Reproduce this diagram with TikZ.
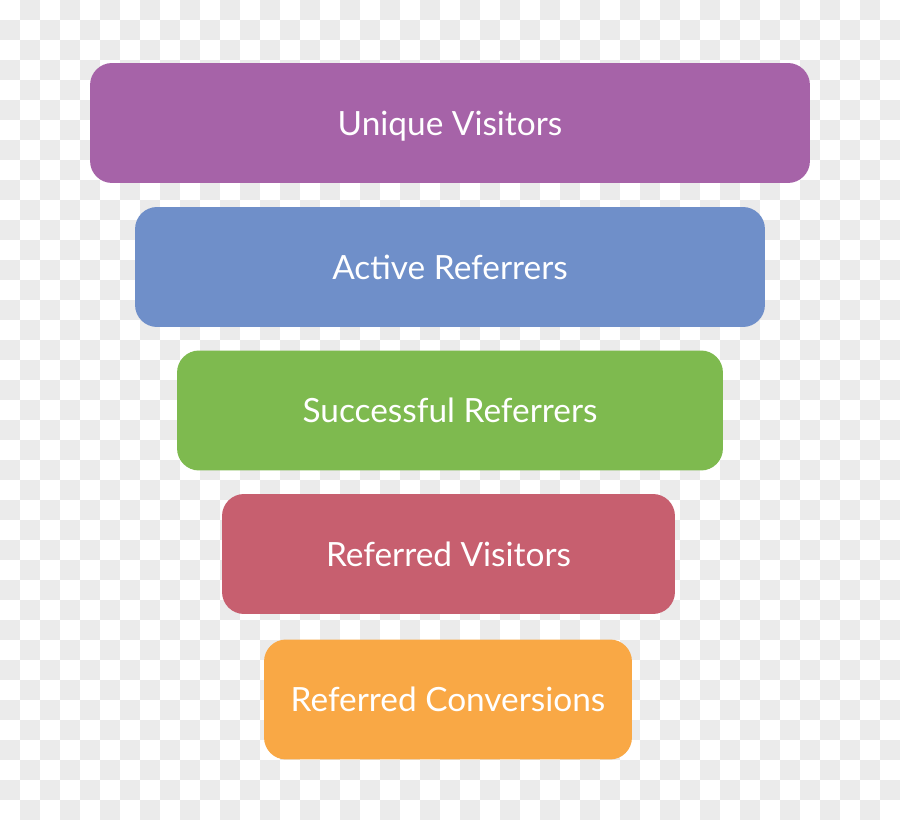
\documentclass[tikz,border=0pt]{standalone}
\usepackage{fontspec}
\setmainfont{Lato}
\usetikzlibrary{positioning}

\definecolor{chkgray}{HTML}{EBEBEB}
\definecolor{uvpurple}{HTML}{A663A8}
\definecolor{arblue}{HTML}{6F8FC9}
\definecolor{srgreen}{HTML}{7EBA4F}
\definecolor{rvred}{HTML}{C75F6F}
\definecolor{rcorange}{HTML}{F9A845}

\tikzset{
  stage/.style={rounded corners=0.44cm, minimum height=2.4cm, inner sep=0pt,
    text=white, text depth=0pt, font=\fontsize{19}{22}\selectfont},
}

\begin{document}
\begin{tikzpicture}[x=0.02cm, y=-0.02cm]
		\useasboundingbox (0,0) rectangle (900,820);
		% Background checkerboard
		\fill[white] (0,0) rectangle (900,820);
		\foreach \i in {0,...,44} \foreach \j in {0,...,40} {
			\pgfmathtruncatemacro\k{mod(\i+\j,2)}
			\ifnum\k=1 \fill[chkgray] (\i*20,\j*20) rectangle ++(20,20); \fi
		}

		% Funnel stages
		\node[stage, fill=uvpurple, minimum width=14.4cm] (visitors) at (450,123) {Unique Visitors};
		\node[stage, fill=arblue, minimum width=12.6cm] (active) at (450,267) {Active Referrers};
		\node[stage, fill=srgreen, minimum width=10.92cm] (successful) at (450,410.5) {Successful Referrers};
		\node[stage, fill=rvred, minimum width=9.06cm] (referred) at (448.5,554) {Referred Visitors};
		\node[stage, fill=rcorange, minimum width=7.36cm] (conversions) at (448,699.5) {Referred Conversions};
	\end{tikzpicture}
\end{document}
